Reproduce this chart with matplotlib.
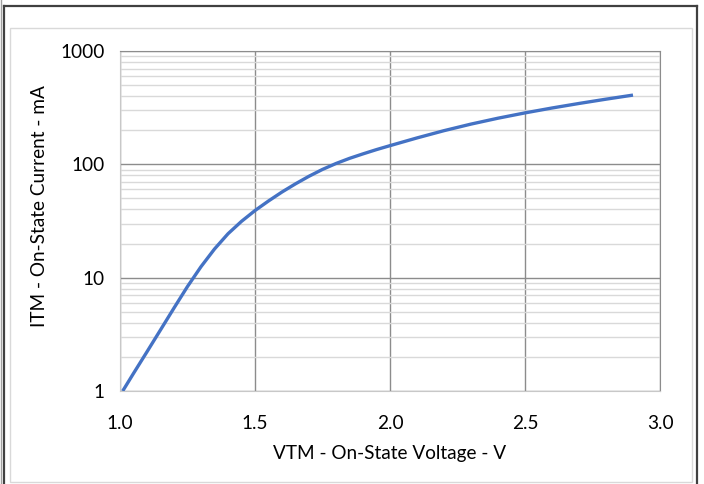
import numpy as np
import matplotlib.pyplot as plt
from matplotlib.lines import Line2D
from matplotlib.patches import Rectangle
from matplotlib.ticker import FixedLocator, NullFormatter

# on-state voltage (V) vs on-state current (mA)
vtm = [1.01, 1.05, 1.10, 1.15, 1.20, 1.25, 1.30, 1.35, 1.40, 1.45, 1.50,
       1.55, 1.60, 1.65, 1.70, 1.75, 1.80, 1.85, 1.90, 1.95, 2.00, 2.10,
       2.20, 2.30, 2.40, 2.50, 2.60, 2.70, 2.80, 2.90]
itm = [1.00, 1.43, 2.22, 3.46, 5.40, 8.36, 12.5, 17.9, 24.4, 31.4, 39.1,
       47.5, 57.0, 67.3, 78.5, 90.2, 101.7, 112.9, 123.7, 134.9, 146.2, 171.0,
       198.2, 226.5, 255.3, 284.4, 314.1, 344.4, 375.8, 408.3]

xticks = [1.0, 1.5, 2.0, 2.5, 3.0]
yticks = [1, 10, 100, 1000]
ytick_labels = ['1', '10', '100', '1000']

plt.rcParams['font.family'] = ['Lato', 'DejaVu Sans']
FS = 13.7

W, H = 704, 484
fig = plt.figure(figsize=(W / 100, H / 100), dpi=100)

# outer frame lines (pixel coords -> figure fraction)
def px(x, y):
    return x / W, 1 - y / H

for (x0, y0), (x1, y1), c, lw in [
        ((4, 6), (697, 6), '#404040', 1.6),
        ((4, 6), (4, 484), '#404040', 1.6),
        ((697, 6), (697, 484), '#404040', 1.6),
        ((1, 0), (1, 484), '#a0a0a0', 1.0)]:
    a, b = px(x0, y0)
    c2, d = px(x1, y1)
    fig.add_artist(Line2D([a, c2], [b, d], color=c, lw=lw))

fig.add_artist(Rectangle(px(10, 482), (692 - 10) / W, (482 - 28) / H,
                         fill=False, edgecolor='#d9d9d9', lw=1.0))

ax = fig.add_axes([120 / W, (H - 391) / H, 540 / W, 340 / H])
ax.plot(vtm, itm, color='#4472C4', lw=2.4, solid_joinstyle='round',
        solid_capstyle='butt', zorder=3)

ax.set_yscale('log')
ax.set_xlim(1.0, 3.0)
ax.set_ylim(1, 1000)
ax.xaxis.set_major_locator(FixedLocator(xticks))
ax.set_xticklabels([f'{t:.1f}' for t in xticks])
ax.yaxis.set_major_locator(FixedLocator(yticks))
ax.set_yticklabels(ytick_labels)
minors = [m * 10 ** k for k in range(3) for m in range(2, 10)]
ax.yaxis.set_minor_locator(FixedLocator(minors))
ax.yaxis.set_minor_formatter(NullFormatter())

ax.grid(which='major', color='#8c8c8c', lw=1.0)
ax.grid(which='minor', axis='y', color='#d9d9d9', lw=1.0)
ax.tick_params(which='both', length=0, labelsize=FS, colors='#000000')
ax.tick_params(axis='x', pad=17)
ax.tick_params(axis='y', pad=11)

for side in ['left', 'bottom']:
    ax.spines[side].set_color('#c8c8c8')
for side in ['top', 'right']:
    ax.spines[side].set_color('#8c8c8c')

ax.set_xlabel('VTM - On-State Voltage - V', fontsize=FS, va='center')
ax.xaxis.set_label_coords(0.5, (391 - 453) / 340)
ax.set_ylabel('ITM - On-State Current - mA', fontsize=FS, va='center')
ax.yaxis.set_label_coords((40 - 120) / 540, (391 - 206) / 340)

fig.savefig('out.png', dpi=100)
